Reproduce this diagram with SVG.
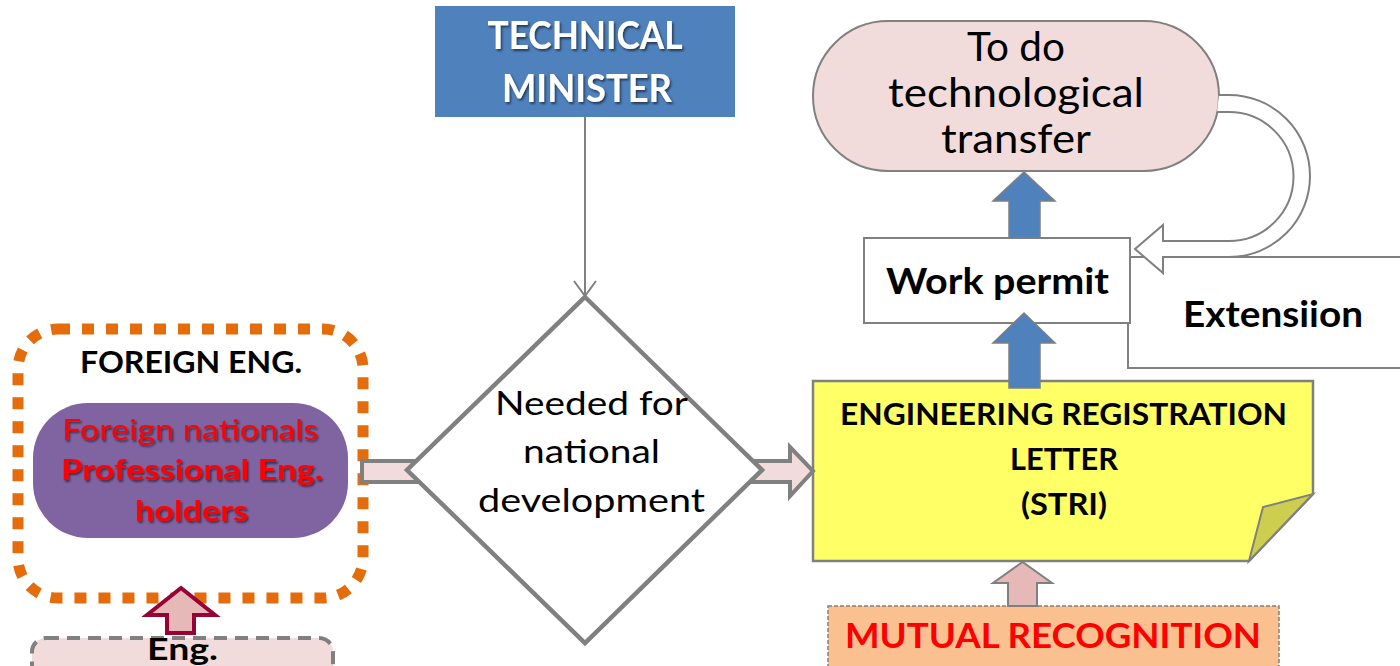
<svg xmlns="http://www.w3.org/2000/svg" width="1400" height="666" viewBox="0 0 1400 666">
<defs>
<filter id="shadow" x="-10%" y="-10%" width="120%" height="130%">
<feDropShadow dx="1.5" dy="2" stdDeviation="1.2" flood-color="#000" flood-opacity="0.55"/>
</filter>
<style>
text{font-family:Lato,"Open Sans","Liberation Sans",sans-serif;text-anchor:middle}
.b{font-weight:bold}
.blue{fill:#4F81BD;stroke:#7F7F7F;stroke-width:1.5}
</style>
</defs>
<rect width="1400" height="666" fill="#fff"/>

<g id="extension">
<rect x="1128" y="257" width="300" height="111" fill="#fff" stroke="#808080" stroke-width="2"/>
<text class="b" x="1273" y="327" font-size="36" textLength="180" lengthAdjust="spacingAndGlyphs">Extensiion</text>
</g>

<g id="technical-minister">
<rect x="435" y="6" width="300" height="111" fill="#4F81BD"/>
<text class="b" x="585" y="49" font-size="38" fill="#fff" filter="url(#shadow)" textLength="195" lengthAdjust="spacingAndGlyphs">TECHNICAL</text>
<text class="b" x="587" y="102" font-size="38" fill="#fff" filter="url(#shadow)" textLength="170" lengthAdjust="spacingAndGlyphs">MINISTER</text>
</g>

<g id="tech-transfer">
<rect x="813" y="21" width="406" height="150" rx="75" fill="#F2DCDB" stroke="#808080" stroke-width="2"/>
<text x="1016" y="61" font-size="40" textLength="98" lengthAdjust="spacingAndGlyphs">To do</text>
<text x="1016" y="107" font-size="40" textLength="256" lengthAdjust="spacingAndGlyphs">technological</text>
<text x="1016" y="153" font-size="40" textLength="150" lengthAdjust="spacingAndGlyphs">transfer</text>
</g>

<g id="work-permit">
<rect x="864" y="238" width="266" height="85" fill="#fff" stroke="#808080" stroke-width="2"/>
<text class="b" x="997.5" y="294" font-size="36" textLength="223" lengthAdjust="spacingAndGlyphs">Work permit</text>
</g>

<g id="registration-letter">
<polygon points="813,381 1313,381 1313,494 1249,561 813,561" fill="#FFFF66" stroke="#808080" stroke-width="2.5"/>
<polygon points="1249,561 1263,507 1313,494" fill="#CDCD50" stroke="#808080" stroke-width="2"/>
<text class="b" x="1063.5" y="425" font-size="30" textLength="447" lengthAdjust="spacingAndGlyphs">ENGINEERING  REGISTRATION</text>
<text class="b" x="1064" y="470" font-size="30" textLength="108" lengthAdjust="spacingAndGlyphs">LETTER</text>
<text class="b" x="1064" y="515" font-size="30" textLength="86" lengthAdjust="spacingAndGlyphs">(STRI)</text>
</g>

<g id="mutual-recognition">
<rect x="828" y="606" width="451" height="90" fill="#FAC090" stroke="#808080" stroke-width="1.5" stroke-dasharray="4 2"/>
<text class="b" x="1053" y="648" font-size="35" fill="#FF0000" textLength="416" lengthAdjust="spacingAndGlyphs">MUTUAL RECOGNITION</text>
</g>

<g id="foreign-eng">
<rect x="18" y="329" width="345" height="269" rx="40" fill="none" stroke="#E46C0A" stroke-width="11" stroke-dasharray="12 12"/>
<text class="b" x="191" y="373" font-size="31" textLength="222" lengthAdjust="spacingAndGlyphs">FOREIGN ENG.</text>
</g>

<g id="foreign-nationals">
<rect x="33" y="403" width="315" height="135" rx="55" fill="#8064A2"/>
<text x="190" y="440" font-size="29" fill="#FF0000" filter="url(#shadow)" textLength="256" lengthAdjust="spacingAndGlyphs">Foreign nationals</text>
<text class="b" x="192" y="480" font-size="29" fill="#FF0000" filter="url(#shadow)" textLength="262" lengthAdjust="spacingAndGlyphs">Professional Eng.</text>
<text class="b" x="191.5" y="521" font-size="29" fill="#FF0000" filter="url(#shadow)" textLength="113" lengthAdjust="spacingAndGlyphs">holders</text>
</g>

<g id="local-eng">
<rect x="32" y="638" width="301" height="80" rx="14" fill="#F2DCDB" stroke="#808080" stroke-width="4" stroke-dasharray="13 8"/>
<text class="b" x="182.5" y="660" font-size="30" textLength="71" lengthAdjust="spacingAndGlyphs">Eng.</text>
</g>

<g id="connectors">
<line x1="585" y1="117" x2="585" y2="296" stroke="#808080" stroke-width="2"/>
<polyline points="574,281 585,296 596,281" fill="none" stroke="#808080" stroke-width="2"/>
<polygon points="362,461 440,461 440,448 462,471 440,494 440,482 362,482" fill="#F2DCDB" stroke="#808080" stroke-width="4"/>
<polygon points="740,461 790,461 790,447 813,471 790,496 790,482 740,482" fill="#F2DCDB" stroke="#808080" stroke-width="4"/>
<polygon class="blue" points="1009,238 1009,201 993,201 1024,172 1055,201 1040,201 1040,238"/>
<polygon class="blue" points="1009,388 1009,343 993,343 1024,313 1055,343 1040,343 1040,388"/>
<polygon points="1008,606 1008,583 993,583 1022.5,562 1052,583 1037,583 1037,606" fill="#E6B9B8" stroke="#808080" stroke-width="2"/>
<polygon points="167,633 167,615 147,615 181,588 215,615 194,615 194,633" fill="#E6B9B8" stroke="#990033" stroke-width="4"/>
<path d="M1219,95 L1229,95 A81,81 0 0 1 1229,257 L1163,257 L1163,273 L1135,249 L1163,225 L1163,241 L1229,241 A64.5,64.5 0 0 0 1229,112 L1217,112" fill="#fff" stroke="#808080" stroke-width="2"/>
</g>

<g id="decision">
<polygon points="585,297 762,470 585,643 407,470" fill="#fff" stroke="#808080" stroke-width="4.5"/>
<text x="591.5" y="415" font-size="33" textLength="193" lengthAdjust="spacingAndGlyphs">Needed for</text>
<text x="591.5" y="463" font-size="33" textLength="137" lengthAdjust="spacingAndGlyphs">national</text>
<text x="591.5" y="512" font-size="33" textLength="227" lengthAdjust="spacingAndGlyphs">development</text>
</g>
</svg>
